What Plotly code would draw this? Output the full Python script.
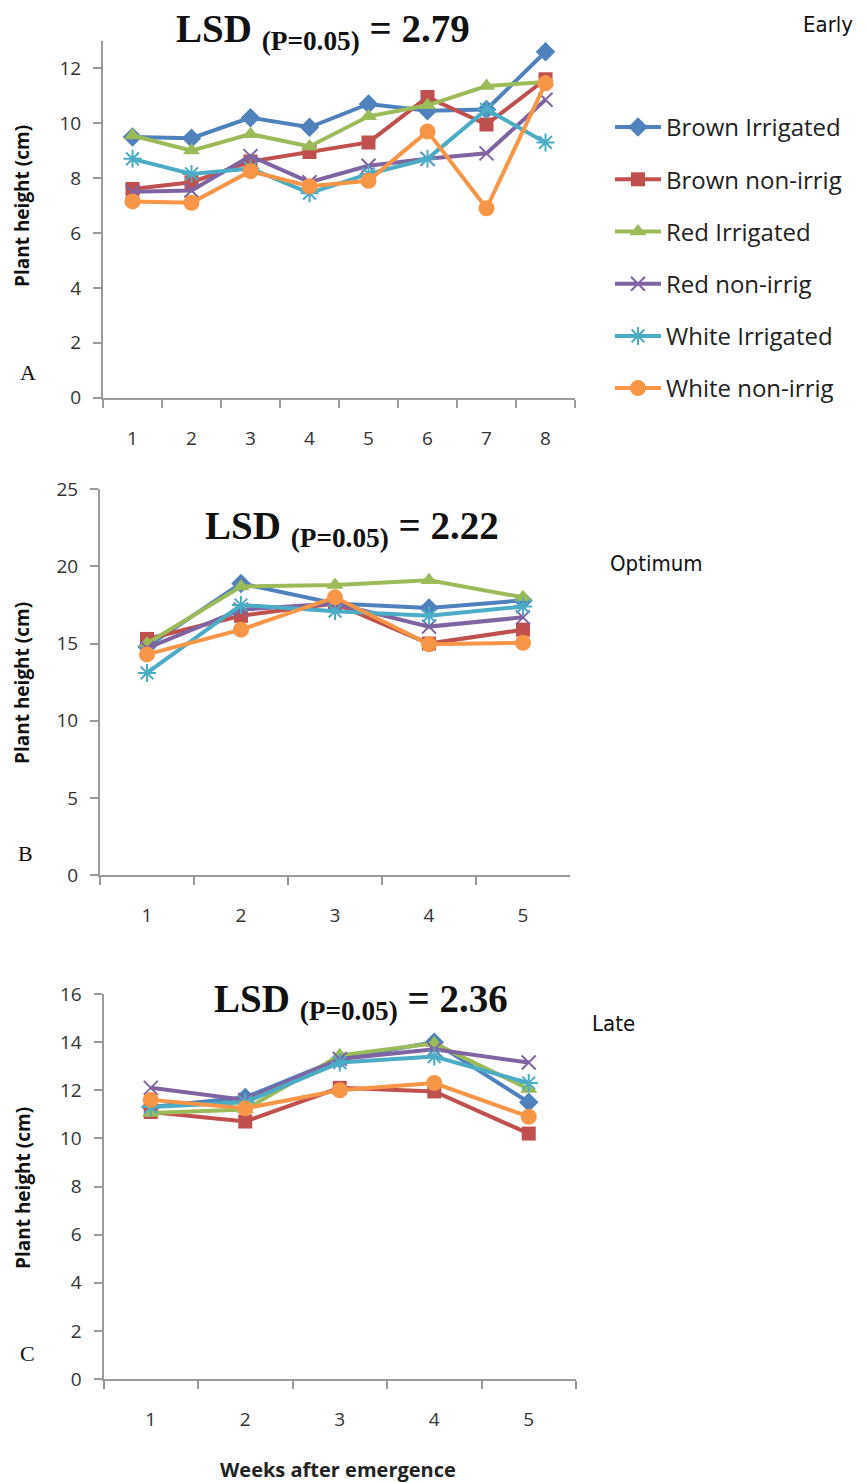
import plotly.graph_objects as go

# ---- data: plant height (cm) by week after emergence ----
series_names = ["Brown Irrigated", "Brown non-irrig", "Red Irrigated",
                "Red non-irrig", "White Irrigated", "White non-irrig"]

weeks_early = ["1", "2", "3", "4", "5", "6", "7", "8"]
weeks_optimum = ["1", "2", "3", "4", "5"]
weeks_late = ["1", "2", "3", "4", "5"]

early_brown_irr = [9.5, 9.45, 10.2, 9.85, 10.7, 10.45, 10.5, 12.6]
early_brown_non = [7.6, 7.85, 8.6, 8.95, 9.3, 10.95, 9.95, 11.6]
early_red_irr = [9.55, 9.0, 9.6, 9.15, 10.25, 10.65, 11.35, 11.5]
early_red_non = [7.5, 7.55, 8.8, 7.85, 8.45, 8.7, 8.9, 10.85]
early_white_irr = [8.7, 8.15, 8.35, 7.45, 8.15, 8.7, 10.5, 9.3]
early_white_non = [7.15, 7.1, 8.25, 7.7, 7.9, 9.7, 6.9, 11.45]

opt_brown_irr = [14.8, 18.9, 17.6, 17.3, 17.8]
opt_brown_non = [15.3, 16.8, 17.6, 15.0, 15.9]
opt_red_irr = [15.0, 18.7, 18.8, 19.1, 18.0]
opt_red_non = [14.7, 17.2, 17.6, 16.1, 16.7]
opt_white_irr = [13.1, 17.5, 17.1, 16.8, 17.4]
opt_white_non = [14.3, 15.9, 18.0, 14.95, 15.05]

late_brown_irr = [11.3, 11.7, 13.3, 14.0, 11.5]
late_brown_non = [11.1, 10.7, 12.1, 11.95, 10.2]
late_red_irr = [11.05, 11.2, 13.45, 13.95, 12.05]
late_red_non = [12.1, 11.6, 13.3, 13.7, 13.15]
late_white_irr = [11.3, 11.5, 13.15, 13.4, 12.3]
late_white_non = [11.6, 11.25, 12.0, 12.3, 10.9]

lsd_labels = ["2.79", "2.22", "2.36"]
season_labels = ["Early", "Optimum", "Late"]
panel_letters = ["A", "B", "C"]

# ---- styling ----
colors = ["#4F81BD", "#C0504D", "#9BBB59", "#8064A2", "#4BACC6", "#F79646"]
symbols = ["diamond", "square", "triangle-up", "x-thin-open", "asterisk-open", "circle"]
sizes = [15, 14, 15, 14, 15, 16]

W, H = 867, 1483
def px(x):
    return x / W
def py(y):
    return 1 - y / H

LABEL_FONT = "'Open Sans', Lato, sans-serif"
NARROW_FONT = ("'Noto Sans ExtraCondensed', 'Noto Sans Condensed', 'DejaVu Sans Condensed', "
               "'Liberation Sans Narrow', 'Noto Sans', sans-serif")
AXIS_GRAY = "#9a9a9a"

panels = [
    dict(x=weeks_early,
         ys=[early_brown_irr, early_brown_non, early_red_irr, early_red_non, early_white_irr, early_white_non],
         xdom=[px(103), px(575)], ydom=[py(397.7), py(40.8)], yrange=[0, 13], dtick=2),
    dict(x=weeks_optimum,
         ys=[opt_brown_irr, opt_brown_non, opt_red_irr, opt_red_non, opt_white_irr, opt_white_non],
         xdom=[px(100), px(570)], ydom=[py(875), py(489.3)], yrange=[0, 25], dtick=5),
    dict(x=weeks_late,
         ys=[late_brown_irr, late_brown_non, late_red_irr, late_red_non, late_white_irr, late_white_non],
         xdom=[px(103.5), px(576)], ydom=[py(1379), py(994)], yrange=[0, 16], dtick=2),
]

fig = go.Figure()
layout = dict(
    width=W, height=H,
    margin=dict(l=0, r=0, t=0, b=0, pad=0, autoexpand=False),
    paper_bgcolor="white", plot_bgcolor="white",
    showlegend=True,
    legend=dict(x=px(610), y=py(105), xanchor="left", yanchor="top",
                font=dict(family=LABEL_FONT, size=24, color="#222222"),
                tracegroupgap=18, itemwidth=46, bgcolor="rgba(0,0,0,0)"),
)

for i, p in enumerate(panels):
    suffix = "" if i == 0 else str(i + 1)
    xa, ya = "x" + suffix, "y" + suffix
    for j, name in enumerate(series_names):
        open_sym = symbols[j].endswith("-open")
        fig.add_trace(go.Scatter(
            x=p["x"], y=p["ys"][j], name=name, mode="lines+markers",
            xaxis=xa, yaxis=ya,
            legendgroup=name, showlegend=(i == 0),
            line=dict(color=colors[j], width=4),
            marker=dict(symbol=symbols[j], size=sizes[j], color=colors[j],
                        line=dict(color=colors[j], width=2 if open_sym else 0)),
        ))
    n = len(p["x"])
    layout["xaxis" + suffix] = dict(
        domain=p["xdom"], anchor=ya, type="category", range=[-0.5, n - 0.5],
        tickson="boundaries", ticks="outside", ticklen=8, tickwidth=2, tickcolor=AXIS_GRAY,
        showline=True, linecolor=AXIS_GRAY, linewidth=2, showgrid=False, zeroline=False,
        tickfont=dict(family=LABEL_FONT, size=19, color="#333333"),
        ticklabelstandoff=22, automargin=False, fixedrange=True,
    )
    layout["yaxis" + suffix] = dict(
        domain=p["ydom"], anchor=xa, range=p["yrange"], dtick=p["dtick"],
        ticks="outside", ticklen=8, tickwidth=2, tickcolor=AXIS_GRAY,
        showline=True, linecolor=AXIS_GRAY, linewidth=2, showgrid=False, zeroline=False,
        tickfont=dict(family=LABEL_FONT, size=19, color="#333333"),
        ticklabelstandoff=8, automargin=False, fixedrange=True,
    )

fig.update_layout(**layout)

# ---- annotations: LSD titles, season labels, panel letters, axis titles ----
title_pos = [(323, 31), (352, 528), (361, 1001)]
season_pos = [(828, 25), (656, 564), (613, 1023)]
letter_pos = [(28, 373), (25, 853), (28, 1353)]
ytitle_pos = [(22, 206), (22, 683), (23, 1188)]

for i in range(3):
    fig.add_annotation(
        x=px(title_pos[i][0]), y=py(title_pos[i][1]), xref="paper", yref="paper",
        text=f"<b>LSD <sub>(P=0.05)</sub> = {lsd_labels[i]}</b>", showarrow=False,
        font=dict(family="'Liberation Serif', 'Times New Roman', serif", size=39, color="#111111"),
        xanchor="center", yanchor="middle")
    fig.add_annotation(
        x=px(season_pos[i][0]), y=py(season_pos[i][1]), xref="paper", yref="paper",
        text=f"<span style='font-stretch:extra-condensed'>{season_labels[i]}</span>",
        showarrow=False,
        font=dict(family=NARROW_FONT, size=22, color="#111111"),
        xanchor="center", yanchor="middle")
    fig.add_annotation(
        x=px(letter_pos[i][0]), y=py(letter_pos[i][1]), xref="paper", yref="paper",
        text=panel_letters[i], showarrow=False,
        font=dict(family="'Liberation Serif', 'Times New Roman', serif", size=22, color="#111111"),
        xanchor="center", yanchor="middle")
    fig.add_annotation(
        x=px(ytitle_pos[i][0]), y=py(ytitle_pos[i][1]), xref="paper", yref="paper",
        text="<b>Plant height (cm)</b>", showarrow=False, textangle=-90,
        font=dict(family=LABEL_FONT, size=19, color="#111111"),
        xanchor="center", yanchor="middle")

fig.add_annotation(
    x=px(338), y=py(1469), xref="paper", yref="paper",
    text="<b>Weeks after emergence</b>", showarrow=False,
    font=dict(family=LABEL_FONT, size=20, color="#222222"),
    xanchor="center", yanchor="middle")

fig.write_html("out.html")
